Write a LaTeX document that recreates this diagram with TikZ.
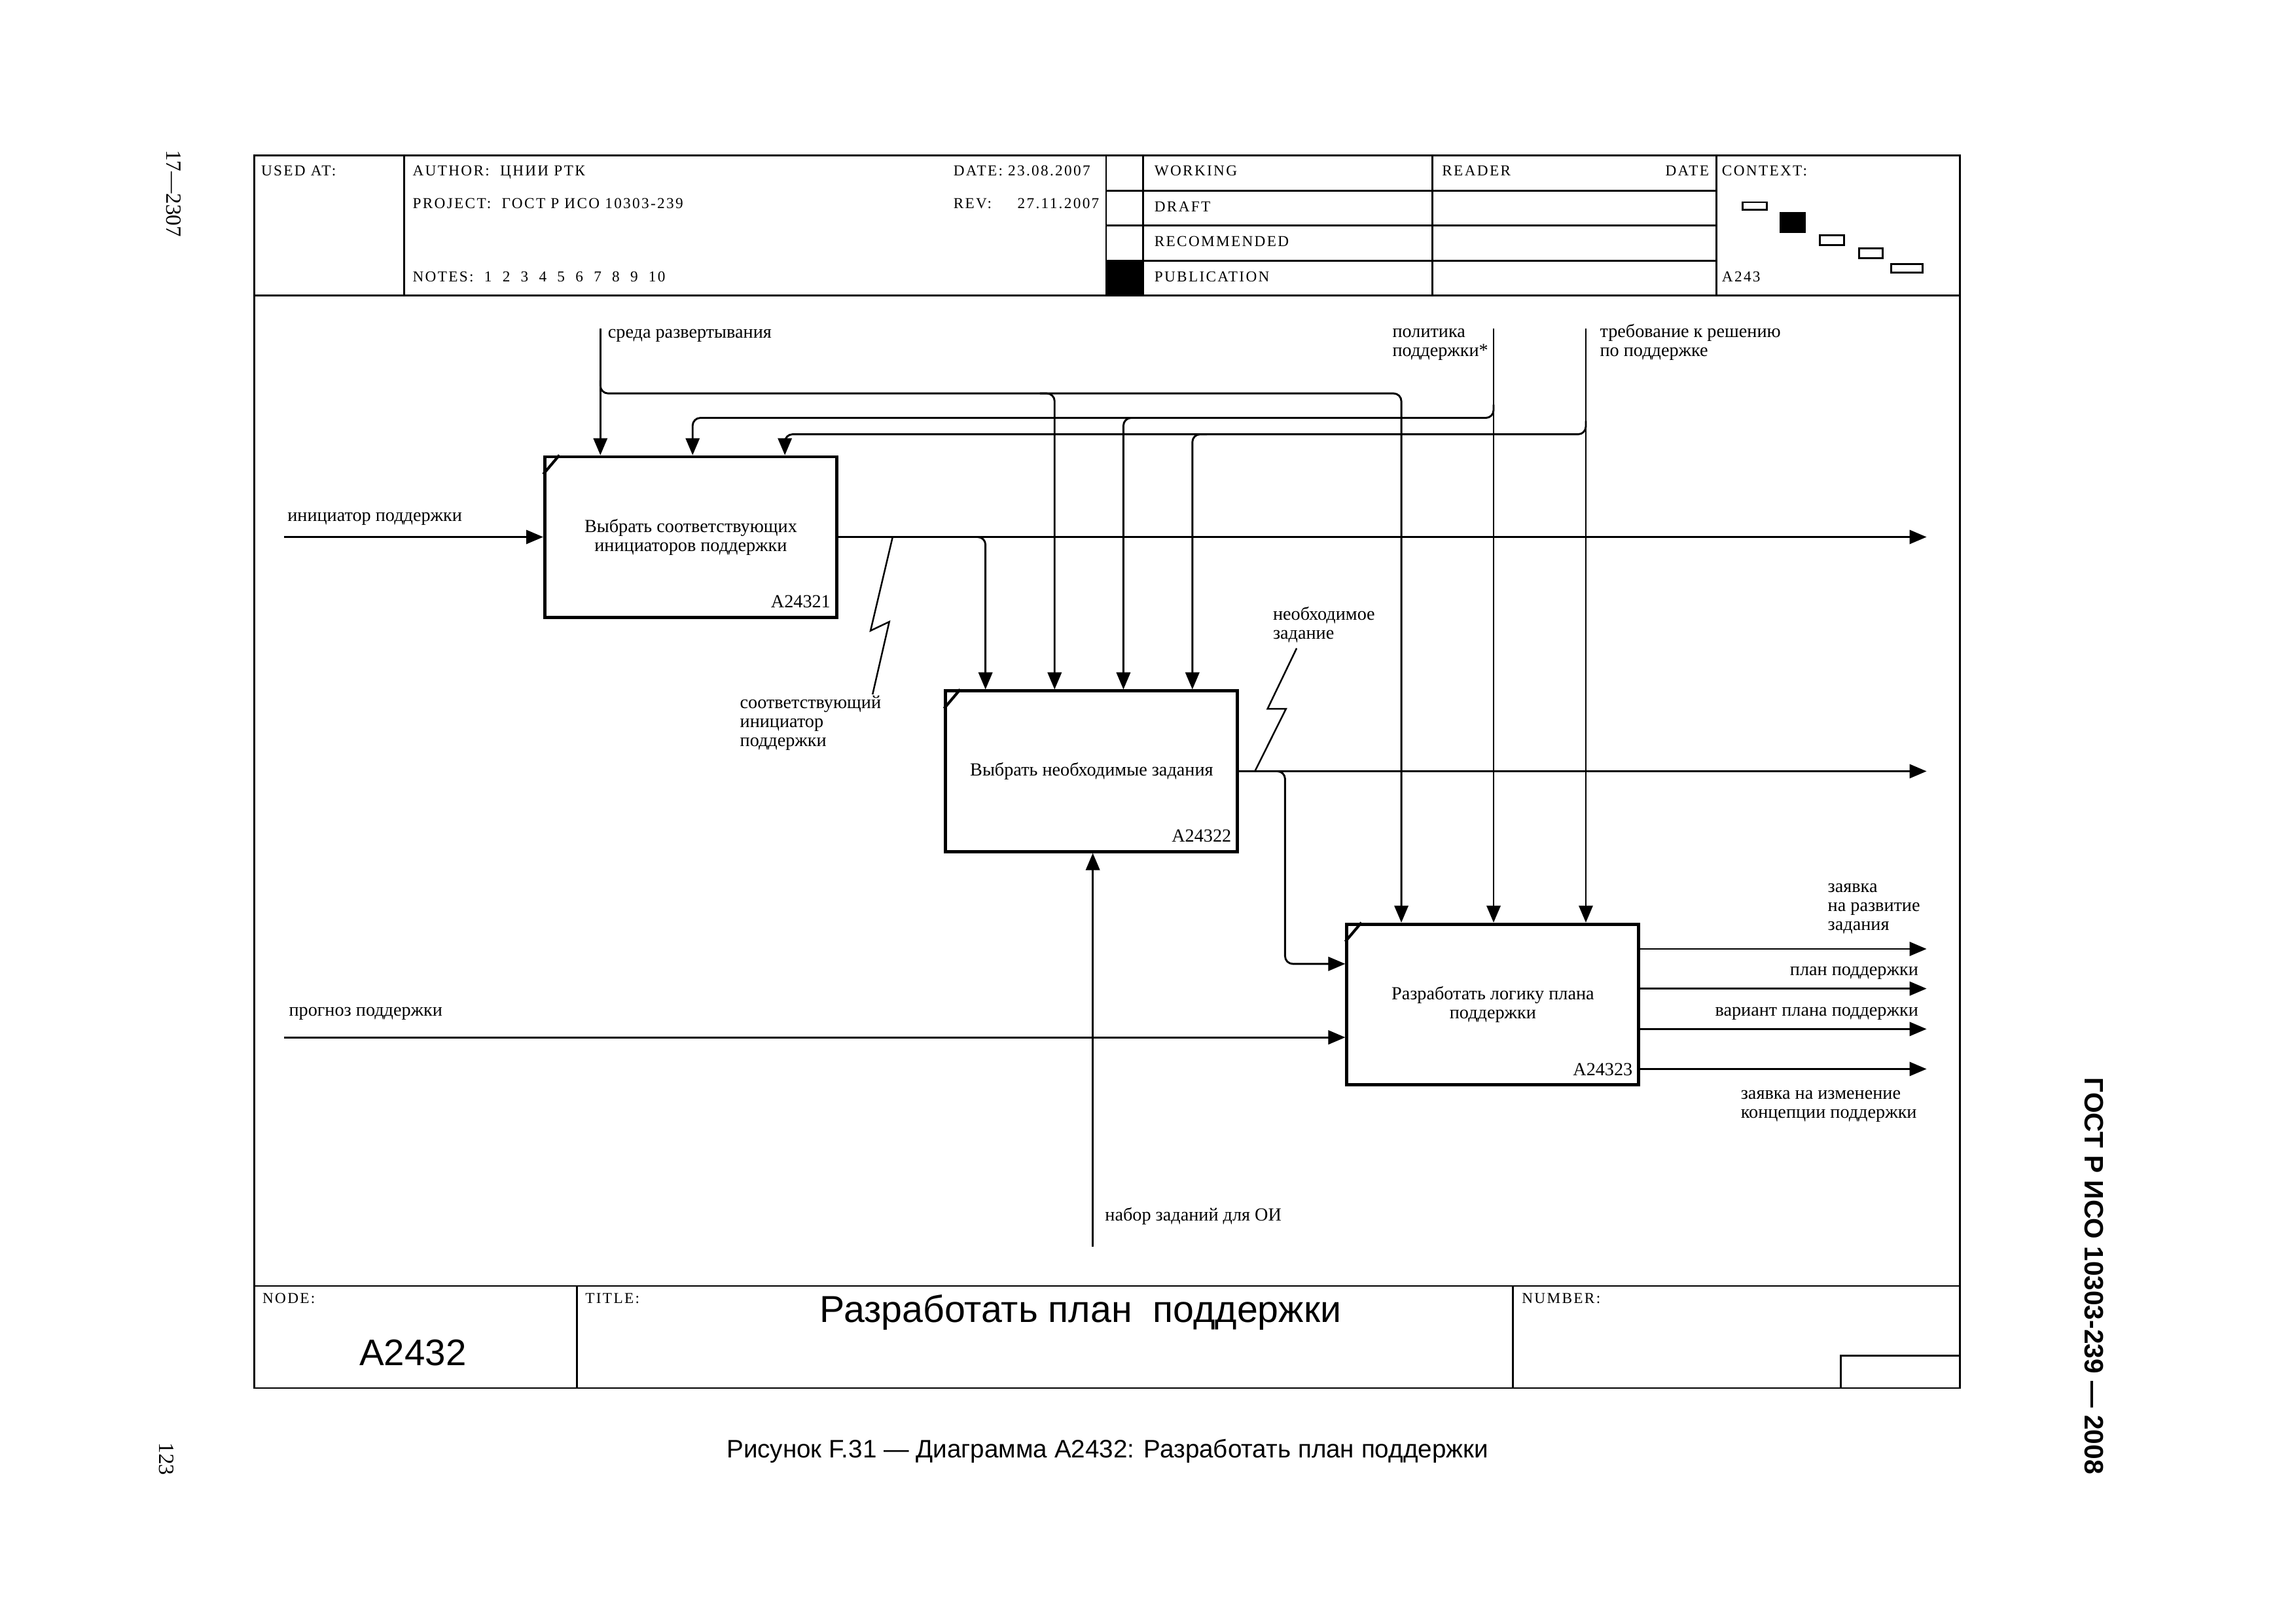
\documentclass[tikz,border=0pt]{standalone}
\usepackage{fontspec}
\setmainfont{Liberation Serif}
\newfontfamily\sansfont{Liberation Sans}
\newfontfamily\hdrfont[LetterSpace=10]{Liberation Serif}
\usetikzlibrary{arrows.meta,calc}
\newcommand\lbl{\fontsize{6.8}{7}\selectfont}
\newcommand\hdr{\hdrfont\fontsize{5.6}{6}\selectfont}

\begin{document}
\begin{tikzpicture}[x=0.1894mm,y=-0.1894mm,
    frame/.style={line width=0.7pt},
    box/.style={draw,line width=1.2pt,minimum width=37.75mm,minimum height=20.75mm,inner sep=1pt,align=center,font=\lbl},
    arr/.style={line width=0.7pt,-{Triangle[length=2.2mm,width=1.8mm]}},
    fork/.style={arr,rounded corners=1mm},
    squig/.style={line width=0.6pt},
    lbl/.style={font=\lbl,inner sep=0pt,align=left,anchor=base west},
    hdr/.style={font=\hdr,inner sep=0pt,anchor=base west}]
	\useasboundingbox (0,0) rectangle (1568,1108.1);
	% frame
	\draw[frame] (173.5,106) rectangle (1338.5,948);
	\draw[frame] (173.5,202) -- (1338.5,202);
	\draw[frame] (173.5,878.3) -- (1338.5,878.3);
	\foreach \x in {276,755.4,780.6,978,1172}
		\draw[frame] (\x,106) -- (\x,202);
	\foreach \y in {130.1,153.9,178}
		\draw[frame] (755.4,\y) -- (1172,\y);
	\fill (755.4,178) rectangle (780.6,202);
	\foreach \x in {394,1033}
		\draw[frame] (\x,878.3) -- (\x,948);
	\draw[frame] (1257.3,948) -- (1257.3,926) -- (1338.5,926);
	% context
	\draw[frame] (1189.9,138.1) rectangle (1206.5,143.3);
	\fill (1215.5,145) rectangle (1233.3,159);
	\draw[frame] (1242.6,160.6) rectangle (1259.5,167.3);
	\draw[frame] (1269.7,169.6) rectangle (1285.9,176.4);
	\draw[frame] (1291.5,180.4) rectangle (1313,186.2);
	% header texts
	\node[hdr] (usedat) at (178,120) {USED AT:};
	\node[hdr] (author) at (281.5,120) {AUTHOR:\ \ ЦНИИ РТК};
	\node[hdr] (date) at (650.8,120) {DATE: 23.08.2007};
	\node[hdr] (project) at (281.5,142.5) {PROJECT:\ \ ГОСТ Р ИСО 10303-239};
	\node[hdr] (rev) at (650.8,142.5) {REV:};
	\node[hdr,anchor=base east] (revdate) at (751,142.5) {27.11.2007};
	\node[hdr] (notes) at (281.5,192.2) {NOTES:\ \ 1\ \ 2\ \ 3\ \ 4\ \ 5\ \ 6\ \ 7\ \ 8\ \ 9\ \ 10};
	\node[hdr] (working) at (788,120) {WORKING};
	\node[hdr] (draft) at (788,144.5) {DRAFT};
	\node[hdr] (recommended) at (788,168.4) {RECOMMENDED};
	\node[hdr] (publication) at (788,192.2) {PUBLICATION};
	\node[hdr] (reader) at (984.5,120) {READER};
	\node[hdr,anchor=base east] (rdate) at (1167.4,120) {DATE};
	\node[hdr] (context) at (1175.6,120) {CONTEXT:};
	\node[hdr] (ctxnode) at (1175.6,192.2) {A243};
	\node[hdr] (nodelbl) at (178.9,890) {NODE:};
	\node[hdr] (titlelbl) at (399.4,890) {TITLE:};
	\node[hdr] (numberlbl) at (1039,890) {NUMBER:};
	\node[font=\sansfont\fontsize{13.8}{15}\selectfont,inner sep=0pt,anchor=base west] (title) at (559.6,903) {Разработать план\ \ поддержки};
	\node[font=\sansfont\fontsize{13.6}{15}\selectfont,inner sep=0pt,anchor=base] (nodenum) at (282,932.7) {A2432};
	% page texts
	\node[font=\sansfont\fontsize{9.3}{11}\selectfont,inner sep=0pt,anchor=base] (caption) at (756.3,995.6) {Рисунок F.31 — Диаграмма A2432: Разработать план поддержки};
	\node[font=\fontsize{8}{8}\selectfont,inner sep=0pt,rotate=-90] (sheet) at (118.6,132.2) {17—2307};
	\node[font=\fontsize{8}{8}\selectfont,inner sep=0pt,rotate=-90] (page) at (113.6,996.5) {123};
	\node[font=\sansfont\bfseries\fontsize{9.8}{10}\selectfont,inner sep=0pt,rotate=-90] (gost) at (1430,871.5) {ГОСТ Р ИСО 10303-239 — 2008};
	% boxes
	\node[box] (box1) at (471.75,366.75) {Выбрать соответствующих\\инициаторов поддержки};
	\node[box] (box2) at (745.5,526.75) {Выбрать необходимые задания};
	\node[box] (box3) at (1019.5,686) {Разработать логику плана\\поддержки};
	\foreach \b/\t in {box1/A24321,box2/A24322,box3/A24323} {
		\draw[line width=1pt] ([shift={(0,13)}]\b.north west) -- ([shift={(11,0)}]\b.north west);
		\node[font=\lbl,inner sep=0pt,anchor=base east] (\b-num) at ([shift={(-5,-7.5)}]\b.south east) {\t};
	}
	% inputs
	\coordinate (in1) at (194,366.75);
	\draw[arr] (in1) -- (box1.west);
	\node[lbl] (in1-lbl) at (196,356.2) {инициатор поддержки};
	\coordinate (in2) at (194,708.5);
	\draw[arr] (in2) -- (in2 -| box3.west);
	\node[lbl] (in2-lbl) at (197,694) {прогноз поддержки};
	% controls
	\coordinate (c1) at (410,224.5);
	\coordinate (c2) at (1020,224.5);
	\coordinate (c3) at (1083,224.5);
	\draw[arr] (c1) -- (c1 |- box1.north);
	\draw[arr] (c2) -- (c2 |- box3.north);
	\draw[arr] (c3) -- (c3 |- box3.north);
	\node[lbl] (c1-lbl) at (414.8,231) {среда развертывания};
	\node[lbl] (c2-lbl) at (950.6,243.4) {политика\\поддержки*};
	\node[lbl] (c3-lbl) at (1092.3,243.4) {требование к решению\\по поддержке};
	\coordinate (h1) at (957,268.7);
	\coordinate (h2) at (473,285.4);
	\coordinate (h3) at (536,296.6);
	\draw[fork] ($(c1 |- h1)+(0,-9)$) -- (c1 |- h1) -- (h1) -- (h1 |- box3.north);
	\draw[fork] ($(c2 |- h2)+(0,-9)$) -- (c2 |- h2) -- (h2) -- (h2 |- box1.north);
	\draw[fork] ($(c3 |- h3)+(0,-9)$) -- (c3 |- h3) -- (h3) -- (h3 |- box1.north);
	\coordinate (d1) at (720.2,268.7);
	\coordinate (d2) at (767.2,285.4);
	\coordinate (d3) at (814.3,296.6);
	\draw[fork] ($(d1)+(-10,0)$) -- (d1) -- (d1 |- box2.north);
	\draw[fork] ($(d2)+(10,0)$) -- (d2) -- (d2 |- box2.north);
	\draw[fork] ($(d3)+(10,0)$) -- (d3) -- (d3 |- box2.north);
	% outputs
	\coordinate (out1) at (1315.7,366.75);
	\draw[arr] (box1.east) -- (out1);
	\coordinate (k1) at (673,366.75);
	\draw[fork] ($(k1)+(-10,0)$) -- (k1) -- (k1 |- box2.north);
	\coordinate (out2) at (1315.7,526.75);
	\draw[arr] (box2.east) -- (out2);
	\coordinate (k2) at (877.6,526.75);
	\coordinate (k3) at (877.6,658.3);
	\draw[fork] ($(k2)+(-8,0)$) -- (k2) -- (k3) -- (k3 -| box3.west);
	\foreach \y/\n in {648.1/1,675.2/2,702.8/3,730.1/4} {
		\coordinate (o\n) at (1315.7,\y);
		\draw[arr] (o\n -| box3.east) -- (o\n);
	}
	\node[lbl] (o1-lbl) at (1247.9,635.4) {заявка\\на развитие\\задания};
	\node[lbl,anchor=base east] (o2-lbl) at (1310.4,666) {план поддержки};
	\node[lbl,anchor=base east] (o3-lbl) at (1310.4,693.9) {вариант плана поддержки};
	\node[lbl] (o4-lbl) at (1188.5,763.6) {заявка на изменение\\концепции поддержки};
	% squiggles
	\coordinate (s1) at (609.6,366.75);
	\draw[squig] (s1) -- ++(-15.1,64) -- ++(12.8,-6.1) -- ++(-11.4,49.6);
	\node[lbl] (s1-lbl) at (505,509.9) {соответствующий\\инициатор\\поддержки};
	\coordinate (s2) at (857,526.75);
	\draw[squig] (s2) -- ++(21.2,-42.6) -- ++(-12.6,0) -- ++(19.9,-41.4);
	\node[lbl] (s2-lbl) at (869,436.3) {необходимое\\задание};
	% mechanism
	\coordinate (m1) at (746.3,851.5);
	\draw[arr] (m1) -- (m1 |- box2.south);
	\node[lbl] (m1-lbl) at (754.3,834) {набор заданий для ОИ};
\end{tikzpicture}
\end{document}
